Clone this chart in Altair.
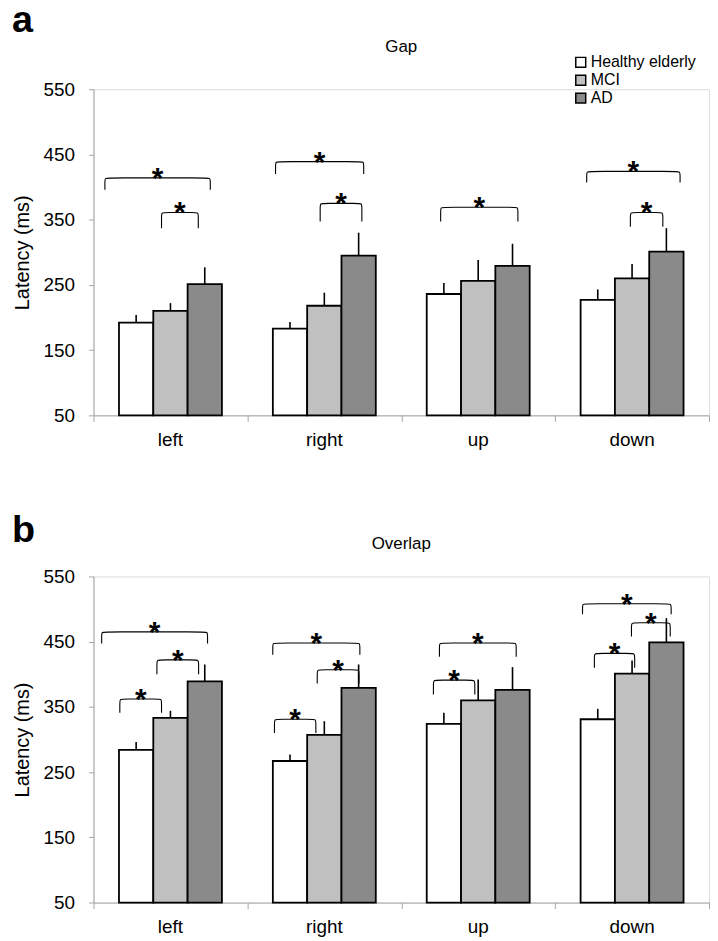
import altair as alt
import pandas as pd

# ---------------- data ----------------
categories = ["left", "right", "up", "down"]
groups = ["Healthy elderly", "MCI", "AD"]

gap_healthy = [192, 183, 236, 227]
gap_mci = [210, 218, 256, 260]
gap_ad = [251, 295, 279, 301]
gap_healthy_err = [12, 10, 17, 16]
gap_mci_err = [12, 20, 32, 22]
gap_ad_err = [26, 35, 34, 36]

overlap_healthy = [284, 267, 324, 331]
overlap_mci = [333, 307, 360, 401]
overlap_ad = [389, 379, 376, 449]
overlap_healthy_err = [12, 10, 17, 16]
overlap_mci_err = [11, 21, 32, 20]
overlap_ad_err = [26, 36, 35, 37]

# significance brackets: start, end (category units), top value, end value (ms)
gap_br_x1 = [0.074, 0.442, 1.183, 1.473, 2.256, 3.205, 3.489]
gap_br_x2 = [0.759, 0.681, 1.756, 1.744, 2.758, 3.812, 3.700]
gap_br_top = [414, 361, 439, 375, 369, 424, 361]
gap_br_end = [396, 337, 420, 347, 347, 407, 339]

overlap_br_x1 = [0.053, 0.412, 0.171, 1.165, 1.454, 1.176, 2.248, 2.209, 3.178, 3.496, 3.255]
overlap_br_x2 = [0.741, 0.683, 0.442, 1.731, 1.725, 1.445, 2.747, 2.478, 3.754, 3.748, 3.517]
overlap_br_top = [465, 422, 362, 448, 407, 331, 448, 391, 508, 479, 432]
overlap_br_end = [447, 400, 341, 430, 386, 310, 427, 369, 492, 458, 410]

y_ticks = [50, 150, 250, 350, 450, 550]

# ---------------- styling ----------------
W, H = 619, 328
BW = 0.223          # bar width in category units
RX, RY = 0.028, 6   # bracket corner rounding
FONT = "Liberation Sans"
FILLS = ["#ffffff", "#c0c0c0", "#8a8a8a"]
AXIS_GREY = "#a6a6a6"


def bars_frame(means, errs):
    rows = []
    for g, (m_list, e_list) in enumerate(zip(means, errs)):
        for i, cat in enumerate(categories):
            xc = i + 0.5 + (g - 1) * BW
            rows.append({
                "cat": cat, "group": groups[g], "xc": xc,
                "x1": xc - BW / 2, "x2": xc + BW / 2,
                "mean": m_list[i], "top": m_list[i] + e_list[i],
            })
    return pd.DataFrame(rows)


def bracket_frames(x1s, x2s, tops, ends):
    pts, stars = [], []
    for b, (a, c, t, e) in enumerate(zip(x1s, x2s, tops, ends)):
        seq = [(a, e), (a, t - RY), (a, t), (a + RX, t),
               (c - RX, t), (c, t), (c, t - RY), (c, e)]
        for k, (px, py) in enumerate(seq):
            pts.append({"bid": b, "k": k, "x": px, "y": py})
        stars.append({"x": (a + c) / 2, "y": t})
    return pd.DataFrame(pts), pd.DataFrame(stars)


def panel(letter, title, means, errs, br, show_legend, letter_y, title_y):
    bdf = bars_frame(means, errs)
    ldf, sdf = bracket_frames(*br)

    xscale = alt.Scale(domain=[0, 4], nice=False, zero=False)
    yscale = alt.Scale(domain=[50, 550], nice=False, zero=False)
    xaxis = alt.Axis(values=[0, 1, 2, 3, 4], labels=False, grid=False, title=None,
                     tickSize=6, domainColor=AXIS_GREY, tickColor=AXIS_GREY)
    yaxis = alt.Axis(values=y_ticks, grid=False, title="Latency (ms)",
                     tickSize=5, domainColor=AXIS_GREY, tickColor=AXIS_GREY,
                     labelFontSize=19, labelColor="black", labelPadding=14,
                     titleFontSize=20, titleFontWeight="normal", titleColor="black",
                     titlePadding=11)

    if show_legend:
        legend = alt.Legend(title=None, orient="none", legendX=482, legendY=-35,
                            symbolType="square", symbolSize=100,
                            symbolStrokeColor="black", symbolStrokeWidth=1.5,
                            labelFontSize=16, labelColor="black", labelOffset=2,
                            rowPadding=2, labelFont=FONT)
    else:
        legend = None

    bars = alt.Chart(bdf).mark_bar(stroke="black", strokeWidth=1.8, opacity=1).encode(
        x=alt.X("x1:Q", scale=xscale, axis=xaxis),
        x2="x2:Q",
        y=alt.Y("mean:Q", scale=yscale, axis=yaxis),
        y2=alt.datum(50),
        color=alt.Color("group:N", scale=alt.Scale(domain=groups, range=FILLS),
                        legend=legend),
    )
    errbars = alt.Chart(bdf).mark_rule(color="black", strokeWidth=1.6).encode(
        x="xc:Q", y="mean:Q", y2="top:Q"
    )
    brackets = alt.Chart(ldf).mark_line(color="black", strokeWidth=1.1,
                                        interpolate="basis").encode(
        x="x:Q", y="y:Q", detail="bid:N", order="k:Q"
    )
    stars = alt.Chart(sdf).mark_text(text="*", fontSize=30, fontWeight="bold",
                                     baseline="alphabetic", dy=10,
                                     font=FONT, color="black").encode(
        x="x:Q", y="y:Q"
    )
    cat_df = pd.DataFrame({"cat": categories, "xc": [i + 0.5 for i in range(4)]})
    cat_labels = alt.Chart(cat_df).mark_text(fontSize=19, baseline="top",
                                             font=FONT, color="black").encode(
        x="xc:Q", y=alt.value(H + 16), text="cat:N"
    )
    head_df = pd.DataFrame({"letter": [letter], "title": [title]})
    letter_mark = alt.Chart(head_df).mark_text(fontSize=38, fontWeight="bold",
                                               align="left", baseline="alphabetic",
                                               font=FONT, color="black").encode(
        x=alt.value(-82), y=alt.value(letter_y), text="letter:N"
    )
    title_mark = alt.Chart(head_df).mark_text(fontSize=17, align="center",
                                              baseline="alphabetic",
                                              font=FONT, color="black").encode(
        x=alt.value(W / 2), y=alt.value(title_y), text="title:N"
    )
    return alt.layer(bars, errbars, brackets, stars, cat_labels,
                     letter_mark, title_mark).properties(width=W, height=H)


top = panel("a", "Gap",
            [gap_healthy, gap_mci, gap_ad],
            [gap_healthy_err, gap_mci_err, gap_ad_err],
            (gap_br_x1, gap_br_x2, gap_br_top, gap_br_end), True, -58, -37)
bottom = panel("b", "Overlap",
               [overlap_healthy, overlap_mci, overlap_ad],
               [overlap_healthy_err, overlap_mci_err, overlap_ad_err],
               (overlap_br_x1, overlap_br_x2, overlap_br_top, overlap_br_end), False,
               -35, -28)

chart = alt.vconcat(top, bottom, spacing=60).resolve_scale(
    color="independent").resolve_legend(color="independent").properties(
    padding={"left": 3, "top": -10, "right": 0, "bottom": 0}
).configure_view(stroke=None).configure(font=FONT)

chart.save("out.html", embed_options={"renderer": "svg", "actions": False})
